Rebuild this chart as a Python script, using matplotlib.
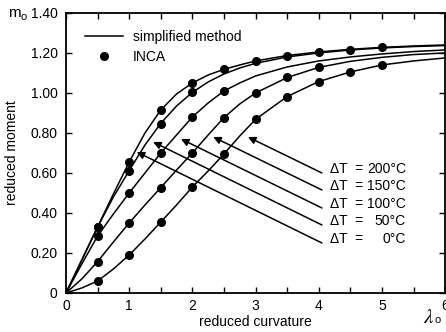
import matplotlib
matplotlib.use('Agg')
import matplotlib.pyplot as plt
from matplotlib.lines import Line2D
from matplotlib.ticker import MultipleLocator, FixedLocator, FixedFormatter

plt.rcParams['font.family'] = ['Liberation Sans', 'DejaVu Sans']
plt.rcParams['mathtext.fontset'] = 'stix'

# simplified method curves
lam = [0, 0.25, 0.5, 0.75, 1, 1.25, 1.5, 1.75, 2, 2.25, 2.5, 2.75, 3,
       3.5, 4, 4.5, 5, 5.5, 6]
m_dt0 = [0, 0.165, 0.33, 0.495, 0.655, 0.80, 0.915, 0.995, 1.05, 1.09, 1.118,
         1.14, 1.16, 1.187, 1.205, 1.218, 1.228, 1.235, 1.24]
m_dt50 = [0, 0.165, 0.33, 0.48, 0.612, 0.74, 0.848, 0.935, 1.003, 1.055, 1.095,
          1.125, 1.148, 1.18, 1.20, 1.215, 1.225, 1.232, 1.237]
m_dt100 = [0, 0.145, 0.285, 0.395, 0.50, 0.60, 0.70, 0.79, 0.88, 0.95, 1.01,
           1.05, 1.085, 1.13, 1.16, 1.18, 1.195, 1.207, 1.215]
m_dt150 = [0, 0.07, 0.157, 0.255, 0.35, 0.44, 0.527, 0.615, 0.70, 0.79, 0.877,
           0.945, 1.0, 1.077, 1.128, 1.158, 1.178, 1.192, 1.20]
m_dt200 = [0, 0.025, 0.06, 0.12, 0.19, 0.27, 0.355, 0.44, 0.53, 0.61, 0.695,
           0.785, 0.868, 0.982, 1.057, 1.105, 1.14, 1.16, 1.175]

# INCA points
inca_x0 = [0.5, 1, 1.5, 2, 2.5, 3, 3.5, 4, 4.5, 5]
inca_dt0 = [0.33, 0.653, 0.915, 1.048, 1.118, 1.16, 1.187, 1.205, 1.215, 1.228]
inca_x50 = [0.5, 1, 1.5, 2]
inca_dt50 = [0.33, 0.61, 0.847, 1.003]
inca_x100 = [0.5, 1, 1.5, 2, 2.5]
inca_dt100 = [0.285, 0.50, 0.70, 0.88, 1.01]
inca_x150 = [0.5, 1, 1.5, 2, 2.5, 3, 3.5, 4]
inca_dt150 = [0.157, 0.35, 0.527, 0.70, 0.877, 1.0, 1.078, 1.128]
inca_x200 = [0.5, 1, 1.5, 2, 2.5, 3, 3.5, 4, 4.5, 5]
inca_dt200 = [0.06, 0.19, 0.355, 0.53, 0.695, 0.868, 0.98, 1.057, 1.105, 1.14]

# labels and arrows (top label first)
dt_values = ['200\u00b0C', '150\u00b0C', '100\u00b0C', '50\u00b0C', '0\u00b0C']
arrow_tip_x = [2.88, 2.33, 1.82, 1.38, 1.12]
arrow_tip_y = [0.78, 0.78, 0.77, 0.755, 0.705]
arrow_tail_y = [0.60, 0.515, 0.425, 0.34, 0.25]
arrow_tail_x = 4.05

ytick_vals = [0, 0.2, 0.4, 0.6, 0.8, 1.0, 1.2, 1.4]
ytick_labels = ['0', '0.20', '0.40', '0.60', '0.80', '1.00', '1.20', '1.40']

fig = plt.figure(figsize=(4.46, 3.32), dpi=100)
ax = fig.add_axes([0.148, 0.1175, 0.85, 0.8435])

for m in [m_dt0, m_dt50, m_dt100, m_dt150, m_dt200]:
    ax.plot(lam, m, color='black', lw=1.1)

for xs, ys in [(inca_x0, inca_dt0), (inca_x50, inca_dt50), (inca_x100, inca_dt100),
               (inca_x150, inca_dt150), (inca_x200, inca_dt200)]:
    ax.plot(xs, ys, 'o', color='black', ms=5.5, mec='black')

for lbl, tx, ty, sy in zip(dt_values, arrow_tip_x, arrow_tip_y, arrow_tail_y):
    ax.annotate('', xy=(tx, ty), xytext=(arrow_tail_x, sy),
                arrowprops=dict(arrowstyle='-|>', color='black', lw=1.1,
                                mutation_scale=11, shrinkA=0, shrinkB=0))
    ax.text(4.18, sy + 0.018, '\u0394T  =', fontsize=10, ha='left', va='center')
    ax.text(5.38, sy + 0.018, lbl, fontsize=10, ha='right', va='center')

ax.set_xlim(0, 6)
ax.set_ylim(0, 1.4)
ax.xaxis.set_major_locator(MultipleLocator(1))
ax.xaxis.set_minor_locator(MultipleLocator(0.5))
ax.yaxis.set_major_locator(FixedLocator(ytick_vals))
ax.yaxis.set_major_formatter(FixedFormatter(ytick_labels))
ax.tick_params(which='both', direction='in', top=True, right=True,
               length=4, width=1.0, labelsize=10)
ax.tick_params(axis='y', pad=6)
ax.tick_params(axis='x', pad=4)
for s in ax.spines.values():
    s.set_linewidth(1.3)

ax.set_xlabel('reduced curvature', fontsize=10, labelpad=2)
ax.set_ylabel('reduced moment', fontsize=10, labelpad=8)

fig.text(0.018, 0.961, 'm', fontsize=11, ha='left', va='center')
fig.text(0.045, 0.950, 'o', fontsize=8, ha='left', va='center')
fig.text(0.948, 0.043, r'$\lambda$', fontsize=15, ha='left', va='center')
fig.text(0.975, 0.035, 'o', fontsize=8, ha='left', va='center')

handles = [Line2D([], [], color='black', lw=1.1),
           Line2D([], [], marker='o', ls='', color='black', ms=5.5)]
ax.legend(handles, ['simplified method', 'INCA'], loc='upper left',
          bbox_to_anchor=(0.05, 0.94), frameon=False, fontsize=10,
          handlelength=2.75, handletextpad=0.7, labelspacing=0.45,
          borderaxespad=0, borderpad=0)

fig.savefig('out.png', dpi=100)
